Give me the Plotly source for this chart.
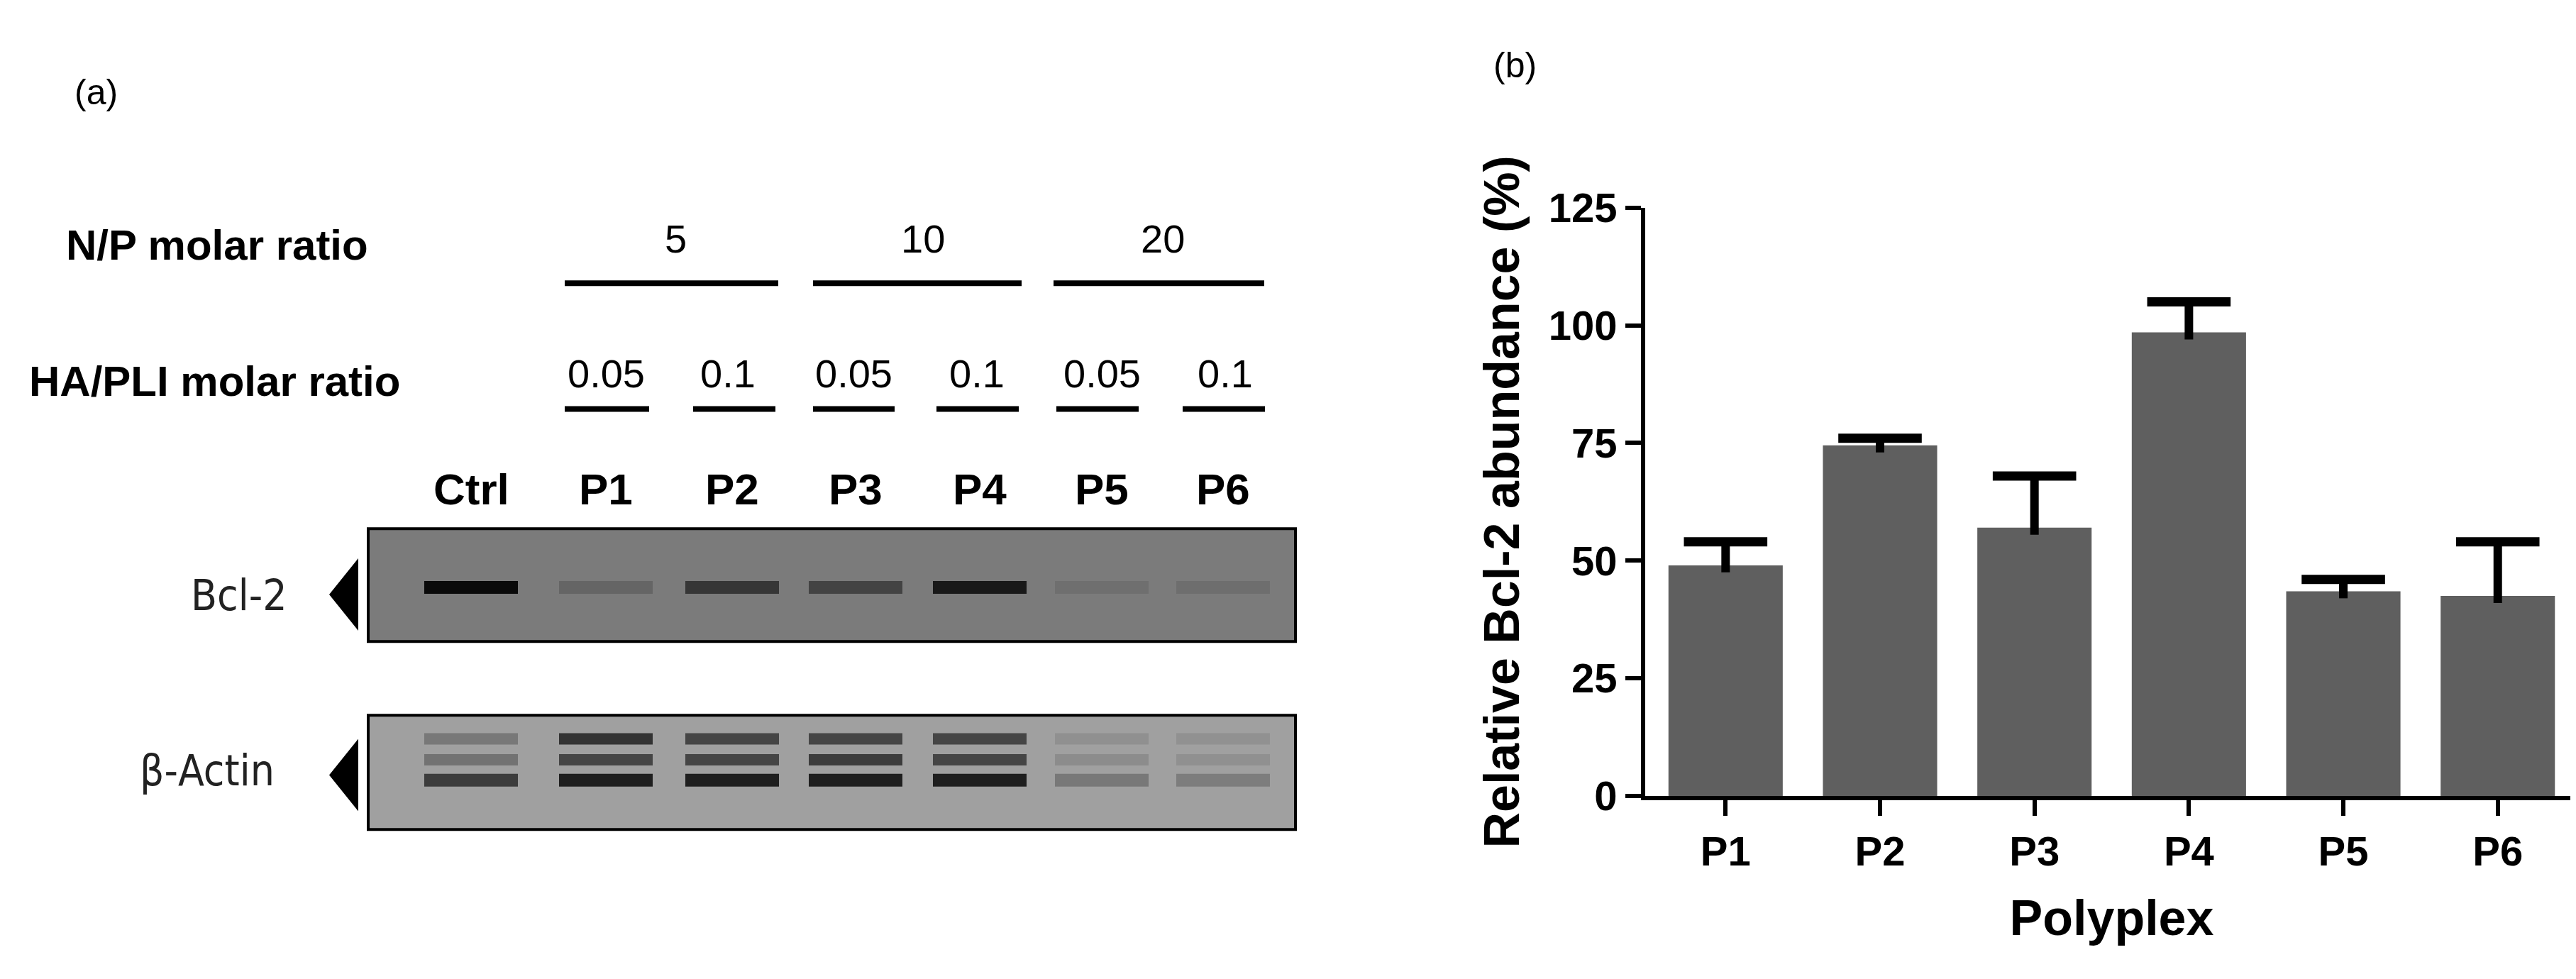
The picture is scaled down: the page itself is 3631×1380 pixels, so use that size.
import plotly.graph_objects as go

# ---- data ----
polyplex = ["P1", "P2", "P3", "P4", "P5", "P6"]
abundance = [49, 74.5, 57, 98.5, 43.5, 42.5]
err_up = [5, 1.5, 11, 6.5, 2.5, 11.5]
y_ticks = [0, 25, 50, 75, 100, 125]

lanes = ["Ctrl", "P1", "P2", "P3", "P4", "P5", "P6"]
np_ratio = ["5", "10", "20"]
ha_ratio = ["0.05", "0.1", "0.05", "0.1", "0.05", "0.1"]
bcl2_intensity = [1.0, 0.25, 0.7, 0.6, 0.9, 0.1, 0.12]
actin_top = [0.35, 0.8, 0.7, 0.7, 0.7, 0.1, 0.08]
actin_mid = [0.4, 0.7, 0.7, 0.75, 0.7, 0.15, 0.1]
actin_bot = [0.75, 0.9, 0.9, 0.9, 0.9, 0.35, 0.3]

# layout positions (pixel space of panel a)
lane_x = [656, 846, 1024, 1198, 1373, 1545, 1716]
np_x = [944, 1293, 1631]
np_line = [(788, 1089), (1138, 1432), (1477, 1774)]
ha_x = [846, 1018, 1195, 1369, 1545, 1719]
ha_line = [(788, 907), (969, 1085), (1138, 1253), (1312, 1428), (1481, 1597), (1659, 1775)]

BOLD = "Liberation Sans Narrow, Arial Narrow, Liberation Sans, Arial"
REG = "Liberation Sans, Arial"

fig = go.Figure()

# ---- panel b bars ----
fig.add_trace(go.Bar(
    x=polyplex, y=abundance, marker=dict(color="#5f5f5f", line=dict(width=0)),
    width=0.74, xaxis="x", yaxis="y", showlegend=False))
# upper error bars (stem + top cap only)
stem_x, stem_y = [], []
for p, v, e in zip(polyplex, abundance, err_up):
    stem_x += [p, p, None]
    stem_y += [v - 1.5, v + e, None]
fig.add_trace(go.Scatter(x=stem_x, y=stem_y, mode="lines",
                         line=dict(color="black", width=12),
                         xaxis="x", yaxis="y", showlegend=False))
fig.add_trace(go.Scatter(x=polyplex, y=[v + e for v, e in zip(abundance, err_up)],
                         mode="markers",
                         marker=dict(symbol="line-ew", size=84,
                                     line=dict(color="black", width=13)),
                         xaxis="x", yaxis="y", showlegend=False))
fig.add_trace(go.Scatter(x=[-0.52, 5.52], y=[100, 100], mode="lines",
                         line=dict(color="black", width=7, dash="dot"),
                         xaxis="x", yaxis="y", showlegend=False))

# ---- panel a blot bands ----
def band(yc, intens, width, base):
    for xc, v in zip(lane_x, intens):
        g = int(base - (base - 10) * v)
        fig.add_trace(go.Scatter(
            x=[xc - 66, xc + 66], y=[yc, yc], mode="lines",
            line=dict(color=f"rgb({g},{g},{g})", width=width),
            opacity=0.35 + 0.65 * v,
            xaxis="x2", yaxis="y2", showlegend=False, hoverinfo="skip"))

band(826, bcl2_intensity, 18, 105)
band(1050, actin_top, 16, 135)
band(1081, actin_mid, 16, 135)
band(1111, actin_bot, 18, 135)

shapes = []
shapes.append(dict(type="rect", xref="x2", yref="y2", x0=511, x1=1818, y0=739, y1=906,
                   fillcolor="#7b7b7b", line=dict(color="black", width=4), layer="below"))
shapes.append(dict(type="rect", xref="x2", yref="y2", x0=511, x1=1818, y0=1015, y1=1184,
                   fillcolor="#a0a0a0", line=dict(color="black", width=4), layer="below"))
for yt, yb in [(783, 890), (1050, 1157)]:
    shapes.append(dict(type="path", xref="x2", yref="y2",
                       path=f"M 497 {yt} L 456 {(yt+yb)/2} L 497 {yb} Z",
                       fillcolor="black", line=dict(width=0)))
for a, b in np_line:
    shapes.append(dict(type="line", xref="x2", yref="y2", x0=a, x1=b, y0=376, y1=376,
                       line=dict(color="black", width=8)))
for a, b in ha_line:
    shapes.append(dict(type="line", xref="x2", yref="y2", x0=a, x1=b, y0=562, y1=562,
                       line=dict(color="black", width=8)))

ann = []
def A(x, y, t, size, font=REG, color="black", xanchor="center"):
    ann.append(dict(x=x, y=y, xref="x2", yref="y2", text=t, showarrow=False,
                    xanchor=xanchor, yanchor="middle", font=dict(size=size, family=font, color=color)))

A(95, 93, "(a)", 50, xanchor="left")
A(83, 320, "<b>N/P molar ratio</b>", 60, BOLD, xanchor="left")
A(31, 521, "<b>HA/PLI molar ratio</b>", 60, BOLD, xanchor="left")
for x, t in zip(np_x, np_ratio):
    A(x, 310, t, 56)
for x, t in zip(ha_x, ha_ratio):
    A(x, 510, t, 56)
for x, t in zip(lane_x, lanes):
    A(x, 681, f"<b>{t}</b>", 62, BOLD)
A(329, 837, "Bcl-2", 60, "DejaVu Sans Condensed, Liberation Sans", "#222")
A(284, 1097, "β-Actin", 60, "DejaVu Sans Condensed, Liberation Sans", "#222")
A(2095, 53, "(b)", 50, xanchor="left")

fig.update_layout(
    width=3631, height=1380, margin=dict(l=0, r=0, t=0, b=0),
    paper_bgcolor="white", plot_bgcolor="rgba(0,0,0,0)",
    shapes=shapes, annotations=ann,
    xaxis=dict(domain=[0.6365, 0.9986], range=[-0.52, 5.52], showline=True,
               tickvals=polyplex, ticktext=[f"<b>{p}</b>" for p in polyplex],
               linecolor="black", linewidth=6, ticks="outside", ticklen=22, tickwidth=6,
               tickcolor="black", showgrid=False, zeroline=False,
               tickfont=dict(size=58, family=BOLD, color="black"),
               title=dict(text="<b>Polyplex</b>", font=dict(size=70, family=BOLD, color="black"),
                          standoff=40)),
    yaxis=dict(domain=[0.178, 0.8085], range=[0, 125], tickvals=y_ticks,
               ticktext=[f"<b>{v}</b>" for v in y_ticks], showline=True,
               linecolor="black", linewidth=6, ticks="outside", ticklen=22, tickwidth=6,
               tickcolor="black", showgrid=False, zeroline=False,
               tickfont=dict(size=58, family=BOLD, color="black"),
               title=dict(text="<b>Relative Bcl-2 abundance (%)</b>",
                          font=dict(size=70, family=BOLD, color="black"), standoff=20)),
    xaxis2=dict(domain=[0, 1], range=[0, 3631], visible=False, anchor="y2"),
    yaxis2=dict(domain=[0, 1], range=[1380, 0], visible=False, anchor="x2"),
)
fig.write_html("out.html")
